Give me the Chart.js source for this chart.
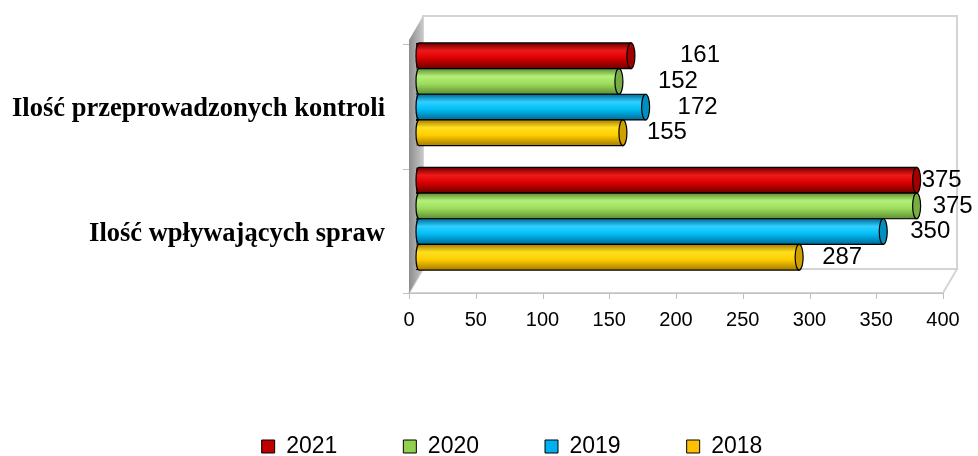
<!DOCTYPE html>
<html>
<head>
<meta charset="utf-8">
<script src="https://cdn.jsdelivr.net/npm/chart.js@4.4.0/dist/chart.umd.min.js"></script>
<style>
  html, body { margin: 0; padding: 0; background: #fff; }
  #wrap { width: 978px; height: 456px; }
</style>
</head>
<body>
<div id="wrap"><canvas id="chart"></canvas></div>
<script>
const categories = ['Ilość przeprowadzonych kontroli', 'Ilość wpływających spraw'];
const years = ['2021', '2020', '2019', '2018'];
const values2021 = [161, 375];
const values2020 = [152, 375];
const values2019 = [172, 350];
const values2018 = [155, 287];
const xMin = 0;
const xMax = 400;
const xStep = 50;

// colours: legend swatch, then cylinder shading
const legendColors = ['#C00000', '#92D050', '#00B0F0', '#FFC000'];
const shades = [
  { dark: '#6A0000', light: '#F01818', base: '#D80000', cap: '#A00000' },
  { dark: '#5E8E34', light: '#B4F078', base: '#9CDC5C', cap: '#78AC44' },
  { dark: '#006A98', light: '#30D0FF', base: '#00BCF4', cap: '#0090C0' },
  { dark: '#A87C00', light: '#FFE020', base: '#FFCC00', cap: '#D0A000' },
];
// where each value label sits, px right of the bar end [dataset][category]
const labelShift = [[49, 5], [39, 16], [32, 27], [24, 23]];

// half depth of the fake 3d box
const DX = 7;
const DY = 12;

const frame3d = {
  id: 'frame3d',
  afterLayout(chart) {
    // legend sits a bit right of centre in the original
    chart.legend.left += 74;
  },
  beforeDatasetsDraw(chart) {
    const { ctx, chartArea: ca, scales } = chart;
    const xs = scales.x, ys = scales.y;
    const backTop = ca.top - 16;
    const backBottom = ca.bottom - DY;
    const frontBottom = ca.bottom + DY;
    ctx.save();
    // back wall
    ctx.strokeStyle = '#D4D4D4';
    ctx.lineWidth = 2;
    ctx.strokeRect(ca.left + DX, backTop, ca.right - ca.left, backBottom - backTop);
    // floor
    ctx.beginPath();
    ctx.moveTo(ca.left - DX, frontBottom);
    ctx.lineTo(ca.right - DX, frontBottom);
    ctx.lineTo(ca.right + DX, backBottom);
    ctx.lineTo(ca.left + DX, backBottom);
    ctx.closePath();
    ctx.fillStyle = '#fff';
    ctx.fill();
    ctx.stroke();
    // left wall
    const g = ctx.createLinearGradient(ca.left - DX, 0, ca.left + DX, 0);
    g.addColorStop(0, '#8C8C8C');
    g.addColorStop(1, '#C8C8C8');
    ctx.beginPath();
    ctx.moveTo(ca.left - DX, backTop + 2 * DY);
    ctx.lineTo(ca.left + DX, backTop);
    ctx.lineTo(ca.left + DX, backBottom);
    ctx.lineTo(ca.left - DX, frontBottom);
    ctx.closePath();
    ctx.fillStyle = g;
    ctx.fill();
    // x tick marks on the front edge
    ctx.strokeStyle = '#BFBFBF';
    ctx.lineWidth = 1;
    ctx.beginPath();
    for (let v = xMin; v <= xMax; v += xStep) {
      const px = Math.round(xs.getPixelForValue(v) - DX) + 0.5;
      ctx.moveTo(px, frontBottom);
      ctx.lineTo(px, frontBottom + 6);
    }
    ctx.moveTo(ca.left - DX, frontBottom + 0.5);
    ctx.lineTo(ca.right - DX, frontBottom + 0.5);
    // y tick marks at category boundaries
    const mid = (ys.getPixelForValue(0) + ys.getPixelForValue(1)) / 2;
    [ca.top, mid, ca.bottom].forEach((b) => {
      const py = Math.round(b + DY) + 0.5;
      ctx.moveTo(ca.left - DX - 6, py);
      ctx.lineTo(ca.left - DX, py);
    });
    ctx.stroke();
    ctx.restore();
  },
};

const cylinder = {
  id: 'cylinder',
  afterDatasetsDraw(chart) {
    const ctx = chart.ctx;
    chart.data.datasets.forEach((ds, di) => {
      const meta = chart.getDatasetMeta(di);
      if (meta.hidden) return;
      const s = shades[di];
      meta.data.forEach((bar) => {
        const { x, y, base, height } = bar.getProps(['x', 'y', 'base', 'height'], true);
        const top = y - height / 2, bot = y + height / 2;
        const g = ctx.createLinearGradient(0, top, 0, bot);
        g.addColorStop(0, s.dark);
        g.addColorStop(0.3, s.light);
        g.addColorStop(0.6, s.base);
        g.addColorStop(1, s.dark);
        ctx.save();
        ctx.beginPath();
        ctx.moveTo(x, top);
        ctx.lineTo(base + 3, top);
        ctx.ellipse(base + 3, y, 3, height / 2, 0, -Math.PI / 2, Math.PI / 2, true);
        ctx.lineTo(x, bot);
        ctx.closePath();
        ctx.fillStyle = g;
        ctx.fill();
        ctx.lineWidth = 1.2;
        ctx.strokeStyle = '#000';
        ctx.stroke();
        ctx.beginPath();
        ctx.ellipse(x, y, 4, height / 2, 0, 0, Math.PI * 2);
        ctx.fillStyle = s.cap;
        ctx.fill();
        ctx.stroke();
        ctx.restore();
      });
    });
    // value labels
    ctx.save();
    ctx.font = '24px "Liberation Sans", Arial, sans-serif';
    ctx.fillStyle = '#000';
    ctx.textAlign = 'left';
    ctx.textBaseline = 'middle';
    chart.data.datasets.forEach((ds, di) => {
      const meta = chart.getDatasetMeta(di);
      meta.data.forEach((bar, i) => {
        ctx.fillText(String(ds.data[i]), bar.x + labelShift[di][i], bar.y);
      });
    });
    ctx.restore();
  },
};

const seriesValues = [values2021, values2020, values2019, values2018];

new Chart(document.getElementById('chart'), {
  type: 'bar',
  data: {
    labels: categories,
    datasets: years.map((y, i) => ({
      label: y,
      data: seriesValues[i],
      backgroundColor: legendColors[i],
      borderColor: '#000',
      borderWidth: 1,
      barPercentage: 1,
      categoryPercentage: 0.824,
    })),
  },
  options: {
    indexAxis: 'y',
    responsive: true,
    maintainAspectRatio: false,
    animation: false,
    layout: {
      padding: { top: 32, right: 28, bottom: -12, left: 0 },
    },
    scales: {
      x: {
        min: xMin,
        max: xMax,
        grid: { display: false, drawTicks: false },
        border: { display: false },
        ticks: {
          stepSize: xStep,
          padding: 27,
          labelOffset: -DX,
          color: '#000',
          font: { family: '"Liberation Sans", Arial, sans-serif', size: 20 },
        },
        afterFit: (scale) => {
          scale.height = 88;
          scale.paddingLeft = 0;
          scale.paddingRight = 0;
        },
      },
      y: {
        grid: { display: false, drawTicks: false },
        border: { display: false },
        ticks: {
          padding: 31,
          labelOffset: 15,
          color: '#000',
          font: { family: '"Liberation Serif", "Times New Roman", serif', size: 26.5, weight: 'bold' },
        },
        afterFit: (scale) => {
          scale.width = 416;
          scale.paddingTop = 0;
          scale.paddingBottom = 0;
        },
      },
    },
    plugins: {
      legend: {
        display: true,
        position: 'bottom',
        labels: {
          boxWidth: 13,
          boxHeight: 13,
          padding: 66,
          color: '#000',
          font: { family: '"Liberation Sans", Arial, sans-serif', size: 23 },
        },
      },
      tooltip: { enabled: false },
    },
  },
  plugins: [frame3d, cylinder],
});
</script>
</body>
</html>
